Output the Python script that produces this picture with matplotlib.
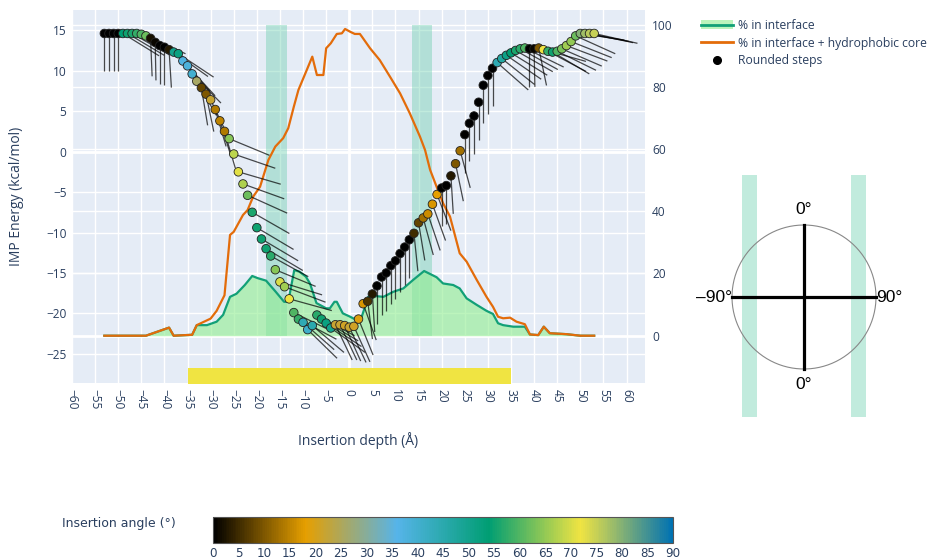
import numpy as np
import matplotlib.pyplot as plt
import matplotlib.cm as cm
from matplotlib.colors import LinearSegmentedColormap, Normalize
from matplotlib.collections import LineCollection
from matplotlib.lines import Line2D
from matplotlib.patches import Patch

plt.rcParams['font.family'] = ['Open Sans', 'DejaVu Sans']

# --- rounded steps: insertion depth (A), IMP energy (kcal/mol), insertion angle (deg)
depth = [-53, -52, -51, -50, -49, -48, -47, -46, -45, -44,
         -43, -42, -41, -40, -39, -38, -37, -36, -35, -34,
         -33, -32, -31, -30, -29, -28, -27, -26, -25, -24,
         -23, -22, -21, -20, -19, -18, -17, -16, -15, -14,
         -13, -12, -11, -10, -9, -8, -7, -6, -5, -4,
         -3, -2, -1, 0, 1, 2, 3, 4, 5, 6,
         7, 8, 9, 10, 11, 12, 13, 14, 15, 16,
         17, 18, 19, 20, 21, 22, 23, 24, 25, 26,
         27, 28, 29, 30, 31, 32, 33, 34, 35, 36,
         37, 38, 39, 40, 41, 42, 43, 44, 45, 46,
         47, 48, 49, 50, 51, 52, 53]
energy = [14.6, 14.6, 14.6, 14.6, 14.6, 14.6, 14.6, 14.6, 14.5, 14.3,
          14.0, 13.5, 13.1, 12.9, 12.6, 12.3, 12.1, 11.2, 10.6, 9.6,
          8.7, 7.9, 7.1, 6.4, 5.2, 3.8, 2.5, 1.6, -0.3, -2.5,
          -4.0, -5.4, -7.5, -9.4, -10.8, -12.0, -12.9, -14.6, -16.1, -16.7,
          -18.2, -19.9, -20.7, -21.1, -22.0, -21.5, -20.2, -20.7, -21.2, -21.8,
          -21.4, -21.4, -21.5, -21.7, -21.6, -20.7, -18.8, -18.5, -17.6, -16.6,
          -15.5, -15.0, -14.1, -13.5, -12.6, -11.8, -10.9, -10.1, -8.8, -8.2,
          -7.7, -6.5, -5.3, -4.5, -4.2, -3.0, -1.5, 0.1, 2.1, 3.5,
          4.4, 6.1, 8.2, 9.4, 10.3, 11.0, 11.5, 11.9, 12.2, 12.5,
          12.7, 12.8, 12.7, 12.7, 12.8, 12.6, 12.4, 12.3, 12.4, 12.7,
          13.1, 13.6, 14.3, 14.6, 14.6, 14.6, 14.6]
angle = [0, 0, 0, 0, 54, 55, 56, 58, 60, 62,
         2, 1, 0, 0, 3, 50, 52, 37, 38, 40,
         26, 8, 10, 22, 14, 15, 14, 64, 68, 71,
         67, 62, 56, 55, 55, 55, 57, 64, 70, 66,
         72, 60, 58, 44, 41, 45, 57, 55, 52, 50,
         22, 22, 21, 22, 21, 19, 17, 6, 3, 0,
         0, 0, 0, 0, 0, 0, 0, 5, 8, 13,
         16, 17, 18, 0, 0, 3, 10, 13, 0, 0,
         0, 0, 0, 0, 0, 44, 47, 51, 54, 56,
         57, 60, 0, 1, 10, 72, 58, 55, 60, 63,
         66, 65, 62, 80, 78, 76, 75]

# --- % in interface + hydrophobic core
core_depth = [-53, -44, -39, -38, -34, -33, -30, -28.7, -27, -25.8,
              -25, -23, -22, -20.8, -19.3, -17.5, -16, -14.3, -13.2, -12,
              -11, -9.2, -8, -7, -5.6, -5, -4, -2.7, -1.6, -0.9,
              0.2, 1.2, 2.3, 2.7, 4.5, 6.6, 8.8, 11, 13.1, 15.3,
              16.4, 17.5, 18.9, 20.3, 21.8, 23.9, 25.4, 27.6, 29.7, 31.1,
              32.2, 33.3, 34.8, 36.2, 38, 39.1, 40.9, 42.1, 43.4, 47,
              50, 53]
core_pct = [0, 0, 2.6, 0, 0.3, 3.4, 5.5, 8, 13, 32.4,
            33.4, 38.8, 40.4, 44.7, 47.9, 56.5, 60.8, 63.5, 66.7, 73.6,
            79, 85.4, 89.7, 83.8, 83.8, 92.4, 94, 97, 97.2, 98.6,
            97.7, 97, 97, 96.2, 92.4, 88.6, 83.3, 77.9, 71.5, 64,
            59.7, 53.3, 47.9, 42.6, 38.3, 26.5, 23.8, 17.9, 12.5, 9.3,
            6.1, 5.6, 5.8, 4.5, 3.7, 0.4, 0.2, 2.9, 0.8, 0.5,
            0, 0]

# --- % in interface
intf_depth = [-53, -44, -39, -38, -34, -33, -30.8, -28.7, -27.3, -25.8,
              -24.4, -22.6, -21, -19.8, -18, -15.9, -14.1, -13.2, -11.9, -10.8,
              -9.4, -8.5, -7.1, -5, -4.2, -3.2, -2.7, -1.4, 0.2, 1.6,
              2.7, 4.1, 5.2, 7.4, 9.5, 11.7, 13.8, 16.2, 18.9, 20.3,
              22.5, 23.9, 25.4, 27.6, 29.7, 31.1, 32.2, 33.3, 35.5, 38,
              39.1, 40.9, 42.1, 43.4, 47, 50, 53]
intf_pct = [0, 0, 2.6, 0, 0.3, 3.4, 3.4, 4.5, 6.7, 12.5,
            13.5, 16.3, 19.2, 18.5, 17.7, 14.1, 10.9, 10.9, 21.1, 20.6,
            19.0, 16.8, 10.5, 8.8, 8.8, 10.9, 10.9, 7.2, 6.1, 5.0,
            6.1, 12.5, 12.8, 12.5, 14.1, 15.2, 17.9, 20.8, 18.8, 16.8,
            16.3, 15.2, 12.0, 9.9, 8.0, 7.0, 4.0, 3.4, 2.9, 2.9,
            0.4, 0.2, 2.9, 0.8, 0.5, 0, 0]

band_left = [-18, -13.5]
band_right = [13.5, 18]
membrane = [-35, 35]

energy_ticks = [-25, -20, -15, -10, -5, 0, 5, 10, 15]
pct_ticks = [0, 20, 40, 60, 80, 100]
depth_ticks = list(range(-60, 61, 5))
cbar_ticks = list(range(0, 91, 5))

TXT = '#2a3f5f'
GREEN = '#12a077'
ORANGE = '#e36c0a'

cmap = LinearSegmentedColormap.from_list(
    'angle', [(0.0, '#000000'), (0.2, '#E69F00'), (0.4, '#56B4E9'),
              (0.6, '#009E73'), (0.8, '#F0E442'), (1.0, '#0072B2')])
norm = Normalize(0, 90)

W, H = 930, 560
fig = plt.figure(figsize=(W / 100, H / 100), dpi=100)


def box(l, t, r, b):
    return [l / W, 1 - b / H, (r - l) / W, (b - t) / H]


# energy axes (bottom layer: background, grid, yellow membrane bar)
ax = fig.add_axes(box(72, 10, 645, 383))
ax.set_facecolor('#E5ECF6')
ax.set_xlim(-60, 64)
ax.set_ylim(-28.6, 17.5)
ax.set_xticks(depth_ticks)
ax.set_yticks(energy_ticks)
ax.grid(color='white', lw=1)
ax.set_axisbelow(True)
ax.axhline(0, color='white', lw=2, zorder=0.8)
ax.axvline(0, color='white', lw=2, zorder=0.8)
ax.fill_between(membrane, -30, -26.7, color='#F0E442', lw=0, zorder=1)
for s in ax.spines.values():
    s.set_visible(False)
ax.tick_params(length=0, labelsize=8.6, labelcolor=TXT, pad=4)
ax.tick_params(axis='x', labelrotation=-90)
ax.set_xlabel('Insertion depth (Å)', fontsize=10, color=TXT)
ax.xaxis.set_label_coords(0.5, -0.131)
ax.set_ylabel('IMP Energy (kcal/mol)', fontsize=10, color=TXT)
ax.yaxis.set_label_coords(-0.083, 0.5)

# percent axes
ax2 = ax.twinx()
ax2.set_ylim(-15.2, 104.7)
ax2.set_yticks(pct_ticks)
ax2.grid(axis='y', color='white', lw=1)
ax2.set_axisbelow(True)
ax2.axhline(0, color='white', lw=2, zorder=0.5)
for s in ax2.spines.values():
    s.set_visible(False)
ax2.tick_params(length=0, labelsize=8.6, labelcolor=TXT, pad=5)
for b in (band_left, band_right):
    ax2.fill_between(b, 0, 100, color='mediumaquamarine', alpha=0.4, lw=0, zorder=1)
ax2.fill_between(intf_depth, 0, intf_pct, color='#90EE90', alpha=0.6, lw=0, zorder=1.5)
ax2.plot(intf_depth, intf_pct, color=GREEN, lw=1.6, zorder=2)
ax2.plot(core_depth, core_pct, color=ORANGE, lw=1.6, zorder=2.1)

# rounded steps on top
ax3 = fig.add_axes(box(72, 10, 645, 383), sharex=ax, sharey=ax)
ax3.patch.set_visible(False)
ax3.axis('off')
LX, LY = 9.7, 4.7
th = np.radians(angle)
segs = [[(x, e), (x + LX * np.sin(t), e - LY * np.cos(t))]
        for x, e, t in zip(depth, energy, th)]
ax3.add_collection(LineCollection(segs, colors='black', linewidths=0.9,
                                  alpha=0.7, zorder=2))
ax3.scatter(depth, energy, c=angle, cmap=cmap, norm=norm, s=38,
            edgecolors='#222222', linewidths=0.6, zorder=3)

# legend
handles = [(Patch(facecolor='#90EE90', alpha=0.6, lw=0), Line2D([], [], color=GREEN, lw=2)),
           Line2D([], [], color=ORANGE, lw=2),
           Line2D([], [], marker='o', ls='', color='black', markersize=5.5)]
labels = ['% in interface', '% in interface + hydrophobic core', 'Rounded steps']
fig.legend(handles, labels, loc='upper left', bbox_to_anchor=(696 / W, 1 - 14 / H),
           frameon=False, fontsize=8.7, labelcolor=TXT, handlelength=2.7,
           handletextpad=0.35, labelspacing=0.4, borderaxespad=0)

# colorbar
cax = fig.add_axes(box(213, 517, 673, 543))
cb = fig.colorbar(cm.ScalarMappable(norm=norm, cmap=cmap), cax=cax, orientation='horizontal')
cb.set_ticks(cbar_ticks)
cb.outline.set_edgecolor('#555555')
cb.outline.set_linewidth(0.8)
cax.tick_params(length=0, labelsize=8.6, labelcolor=TXT, pad=3)
for t in cax.get_xticklabels():
    t.set_fontfamily('DejaVu Sans')
fig.text(62 / W, 1 - 524 / H, 'Insertion angle (°)', va='center', ha='left',
         fontsize=9, color=TXT, family='DejaVu Sans')

# orientation diagram
dax = fig.add_axes(box(696, 170, 912, 424))
dax.set_xlim(-1.5, 1.5)
dax.set_ylim(-1.764, 1.764)
dax.axis('off')
for b in ([-0.865, -0.657], [0.651, 0.86]):
    dax.fill_between(b, -1.663, 1.694, color='mediumaquamarine', alpha=0.4, lw=0)
circ = np.linspace(0, 2 * np.pi, 200)
dax.plot(np.cos(circ), np.sin(circ), color='#888888', lw=0.8)
dax.plot([0, 0], [-1, 1], color='black', lw=2.3)
dax.plot([-1, 1], [0, 0], color='black', lw=2.3)
lab = dict(fontsize=12.5, color='black', family=['Liberation Sans', 'DejaVu Sans'])
dax.text(0, 1.22, '0°', ha='center', va='center', **lab)
dax.text(0, -1.22, '0°', ha='center', va='center', **lab)
dax.text(-1.0, 0, '–90°', ha='right', va='center', **lab)
dax.text(1.0, 0, '90°', ha='left', va='center', **lab)

fig.savefig('out.png', dpi=100)
